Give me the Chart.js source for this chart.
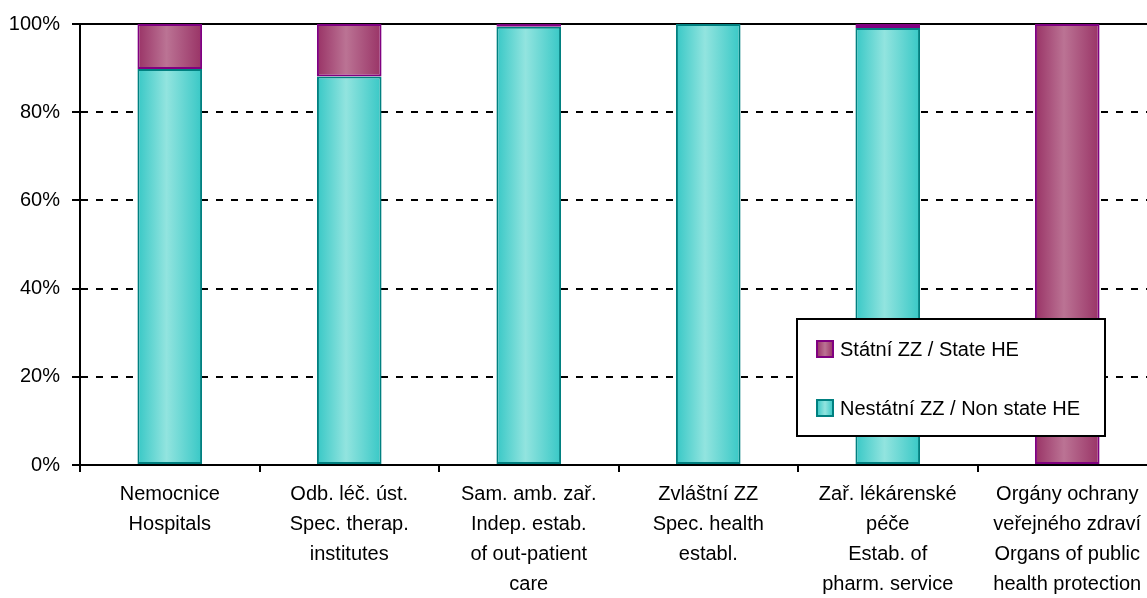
<!DOCTYPE html>
<html>
<head>
<meta charset="utf-8">
<script src="https://cdn.jsdelivr.net/npm/chart.js@4/dist/chart.umd.min.js"></script>
<style>
  html, body { margin: 0; padding: 0; background: #fff; overflow: hidden; }
  #wrap { width: 1160px; height: 598px; position: relative; }
</style>
</head>
<body>
<div id="wrap"><canvas id="c"></canvas></div>
<script>
const categories = [
  ["Nemocnice", "Hospitals"],
  ["Odb. léč. úst.", "Spec. therap.", "institutes"],
  ["Sam. amb. zař.", "Indep. estab.", "of out-patient", "care"],
  ["Zvláštní ZZ", "Spec. health", "establ."],
  ["Zař. lékárenské", "péče", "Estab. of", "pharm. service"],
  ["Orgány ochrany", "veřejného zdraví", "Organs of public", "health protection"]
];
const nonStateValues = [89.8, 88.1, 99.4, 100, 99.1, 0];
const stateValues = [10.2, 11.9, 0.6, 0, 0.9, 100];
const seriesLabels = ["Nestátní ZZ / Non state HE", "Státní ZZ / State HE"];
const yTicks = [0, 20, 40, 60, 80, 100];

const FONT = '"Liberation Sans", Arial, sans-serif';
const BAR_PCT = 0.36;

const palettes = {
  teal: { edge: '#38c8c6', mid: '#92e4df', border: '#008080' },
  purple: { edge: '#993366', mid: '#bb7394', border: '#800080' }
};

function barGradient(pal) {
  return function (ctx) {
    const chart = ctx.chart;
    const xs = chart.scales && chart.scales.x;
    if (!xs || !chart.chartArea || ctx.dataIndex === undefined) return pal.mid;
    const cx = xs.getPixelForValue(ctx.dataIndex);
    const half = (xs.width / categories.length) * BAR_PCT / 2;
    const g = chart.ctx.createLinearGradient(cx - half, 0, cx + half, 0);
    g.addColorStop(0, pal.edge);
    g.addColorStop(0.45, pal.mid);
    g.addColorStop(1, pal.edge);
    return g;
  };
}

const legendPlugin = {
  id: 'boxLegend',
  afterDraw(chart) {
    const c = chart.ctx;
    const x = 797, y = 319, w = 308, h = 117;
    c.save();
    c.fillStyle = '#fff';
    c.fillRect(x, y, w, h);
    c.lineWidth = 2;
    c.strokeStyle = '#000';
    c.strokeRect(x, y, w, h);
    const items = [
      { label: chart.data.datasets[1].label, pal: palettes.purple, cy: y + 30 },
      { label: chart.data.datasets[0].label, pal: palettes.teal, cy: y + 89 }
    ];
    c.font = '20px ' + FONT;
    c.textBaseline = 'middle';
    c.textAlign = 'left';
    items.forEach(it => {
      const sx = x + 20, sy = it.cy - 8, s = 16;
      const g = c.createLinearGradient(sx, 0, sx + s, 0);
      g.addColorStop(0, it.pal.edge);
      g.addColorStop(0.5, it.pal.mid);
      g.addColorStop(1, it.pal.edge);
      c.fillStyle = g;
      c.fillRect(sx, sy, s, s);
      c.lineWidth = 2;
      c.strokeStyle = it.pal.border;
      c.strokeRect(sx, sy, s, s);
      c.fillStyle = '#000';
      c.fillText(it.label, x + 43, it.cy + 1);
    });
    c.restore();
  }
};

new Chart(document.getElementById('c'), {
  type: 'bar',
  data: {
    labels: categories,
    datasets: [
      {
        label: seriesLabels[0],
        data: nonStateValues,
        backgroundColor: barGradient(palettes.teal),
        borderColor: palettes.teal.border,
        borderWidth: 2,
        borderSkipped: false
      },
      {
        label: seriesLabels[1],
        data: stateValues,
        backgroundColor: barGradient(palettes.purple),
        borderColor: palettes.purple.border,
        borderWidth: 2,
        borderSkipped: false
      }
    ]
  },
  options: {
    responsive: true,
    maintainAspectRatio: false,
    animation: false,
    events: [],
    layout: { padding: { top: 20, right: 3, left: 0, bottom: 0 } },
    datasets: { bar: { categoryPercentage: 1, barPercentage: BAR_PCT } },
    plugins: { legend: { display: false }, tooltip: { enabled: false } },
    scales: {
      x: {
        stacked: true,
        afterFit(s) { s.height = 133; },
        grid: {
          offset: true,
          drawOnChartArea: false,
          drawTicks: true,
          tickLength: 7,
          color: '#000',
          lineWidth: 2
        },
        border: { display: true, color: '#000', width: 2 },
        ticks: {
          color: '#000',
          padding: 7,
          maxRotation: 0,
          autoSkip: false,
          font: { family: FONT, size: 20, lineHeight: 1.5 }
        }
      },
      y: {
        stacked: true,
        min: 0,
        max: 100,
        afterFit(s) { s.width = 80; },
        afterBuildTicks(s) { s.ticks = yTicks.map(v => ({ value: v })); },
        grid: {
          color: (ctx) => (ctx.tick && ctx.tick.value === 0) ? 'rgba(0,0,0,0)' : '#000',
          lineWidth: 2,
          tickLength: 8,
          tickColor: '#000',
          tickWidth: 2,
          tickBorderDash: []
        },
        border: {
          display: true,
          color: '#000',
          width: 2,
          dash: (ctx) => (ctx.tick && ctx.tick.value === 100) ? [] : [7, 8]
        },
        ticks: {
          color: '#000',
          padding: 12,
          font: { family: FONT, size: 20 },
          callback: (v) => v + '%'
        }
      }
    }
  },
  plugins: [legendPlugin]
});
</script>
</body>
</html>
